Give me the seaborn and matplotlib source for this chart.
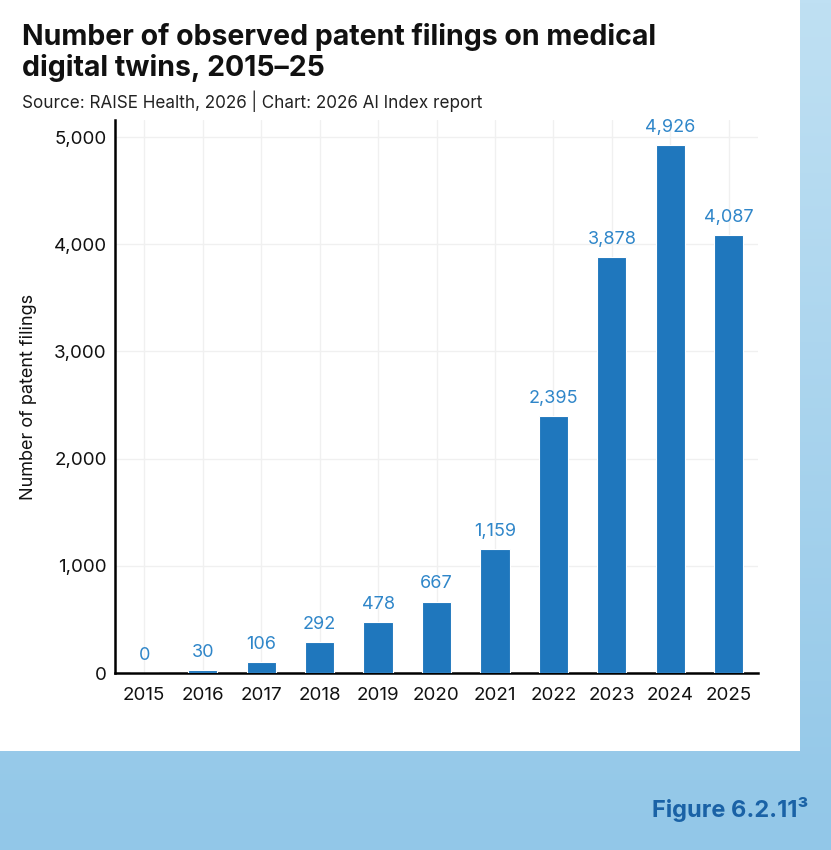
import numpy as np
import pandas as pd
import matplotlib
matplotlib.use('Agg')
import matplotlib.pyplot as plt
import seaborn as sns
from matplotlib.patches import Rectangle

# data
years = ['2015', '2016', '2017', '2018', '2019', '2020', '2021', '2022', '2023', '2024', '2025']
filings = [0, 30, 106, 292, 478, 667, 1159, 2395, 3878, 4926, 4087]
y_ticks = [0, 1000, 2000, 3000, 4000, 5000]

df = pd.DataFrame({'Year': years, 'Filings': filings})

sns.set_theme(style='white')
plt.rcParams['font.family'] = ['Inter', 'DejaVu Sans']

bar_color = '#1f77bd'
label_color = '#2f86c9'

fig = plt.figure(figsize=(8.31, 8.5), dpi=100)

# light blue gradient background, white panel on top
bg = fig.add_axes([0, 0, 1, 1], zorder=-10)
grad = np.linspace(0, 1, 256).reshape(-1, 1)
cmap = matplotlib.colors.LinearSegmentedColormap.from_list('bg', ['#bfe0f3', '#92c7e8'])
bg.imshow(grad, aspect='auto', cmap=cmap, extent=[0, 1, 0, 1], origin='upper')
bg.add_patch(Rectangle((0, 1 - 751 / 850), 800 / 831, 751 / 850, color='white', lw=0))
bg.set_xlim(0, 1)
bg.set_ylim(0, 1)
bg.axis('off')

ax = fig.add_axes([115 / 831, 1 - 673 / 850, 643 / 831, 553 / 850])
sns.barplot(data=df, x='Year', y='Filings', color=bar_color, width=0.5,
            edgecolor='white', linewidth=0.8, saturation=1, ax=ax, zorder=3)

for i, v in enumerate(filings):
    ax.text(i, v + 85, f'{v:,}', ha='center', va='bottom', fontsize=13,
            color=label_color, zorder=4)

ax.set_xlim(-0.5, len(years) - 0.5)
ax.set_ylim(0, 5160)
ax.set_yticks(y_ticks)
ax.set_yticklabels([f'{t:,}' for t in y_ticks])
ax.grid(True, color='#f0f0f0', lw=1, zorder=0)
ax.set_axisbelow(True)
for s in ['top', 'right']:
    ax.spines[s].set_visible(False)
for s in ['left', 'bottom']:
    ax.spines[s].set_color('black')
    ax.spines[s].set_linewidth(1.8)
ax.tick_params(axis='both', labelsize=13.5, colors='#111111', length=0)
ax.tick_params(axis='x', pad=10)
ax.tick_params(axis='y', pad=6)
ax.set_xlabel('')
ax.set_ylabel('Number of patent filings', fontsize=13, color='#111111', labelpad=12)

fig.text(22 / 831, 1 - 23 / 850, 'Number of observed patent filings on medical\ndigital twins, 2015\u201325',
         fontsize=20.5, fontweight='bold', color='#111111', va='top', ha='left', linespacing=1.12)
fig.text(22 / 831, 1 - 101 / 850, 'Source: RAISE Health, 2026 | Chart: 2026 AI Index report',
         fontsize=12.3, color='#222222', va='center', ha='left')
fig.text(808 / 831, 1 - 810 / 850, 'Figure 6.2.11\u00b3', fontsize=17, fontweight='bold',
         color='#1a62a6', va='center', ha='right')

fig.savefig('out.png', dpi=100)
